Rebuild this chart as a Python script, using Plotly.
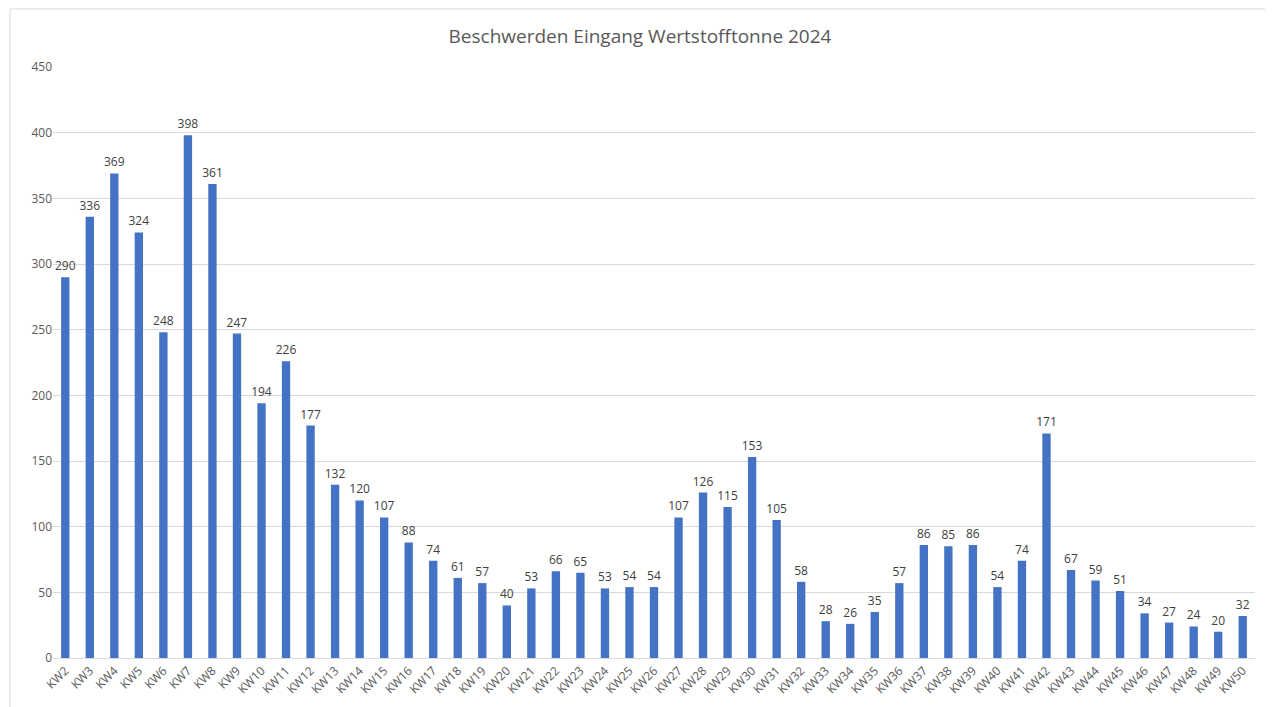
import plotly.graph_objects as go

weeks = [f"KW{i}" for i in range(2, 51)]
values = [290, 336, 369, 324, 248, 398, 361, 247, 194, 226, 177, 132, 120, 107, 88, 74, 61, 57, 40, 53,
          66, 65, 53, 54, 54, 107, 126, 115, 153, 105, 58, 28, 26, 35, 57, 86, 85, 86, 54, 74,
          171, 67, 59, 51, 34, 27, 24, 20, 32]
y_ticks = list(range(0, 451, 50))

fig = go.Figure(go.Bar(
    x=weeks, y=values, marker_color="#4472C4", marker_line_width=0,
    text=values, textposition="outside", cliponaxis=False, constraintext="none",
    textfont=dict(size=12, color="#404040"),
))

# page offset of ~8px (body margin) is taken into account
L, R, T, B = 45, 18, 59, 49
W, H = 1265, 699
pw, ph = W - L - R, H - T - B

fig.update_layout(
    width=W, height=H,
    margin=dict(l=L, r=R, t=T, b=B, autoexpand=False),
    paper_bgcolor="white", plot_bgcolor="white",
    font=dict(family="Open Sans, Liberation Sans, sans-serif", color="#595959"),
    title=dict(text="Beschwerden Eingang Wertstofftonne 2024", x=(640 - 8) / W, xanchor="center",
               y=1 - 28 / H, yanchor="middle", font=dict(size=19, color="#595959")),
    bargap=0.66,
    showlegend=False,
    uniformtext=dict(minsize=12, mode="show"),
    xaxis=dict(tickangle=-45, tickfont=dict(size=12, color="#595959"), showgrid=False,
               showline=True, linecolor="#D9D9D9", ticks="", automargin=False),
    yaxis=dict(range=[0, 450], tickvals=y_ticks, tickfont=dict(size=12, color="#595959"),
               gridcolor="#D9D9D9", zeroline=False, showline=False, ticks="", automargin=False),
    shapes=[dict(type="rect", xref="paper", yref="paper",
                 x0=(2 - L) / pw, x1=(1262 - L) / pw,
                 y0=-(B + 20) / ph, y1=(H - B - 1) / ph,
                 line=dict(color="#D9D9D9", width=1), fillcolor="rgba(0,0,0,0)", layer="below")],
)

fig.write_html("out.html")
